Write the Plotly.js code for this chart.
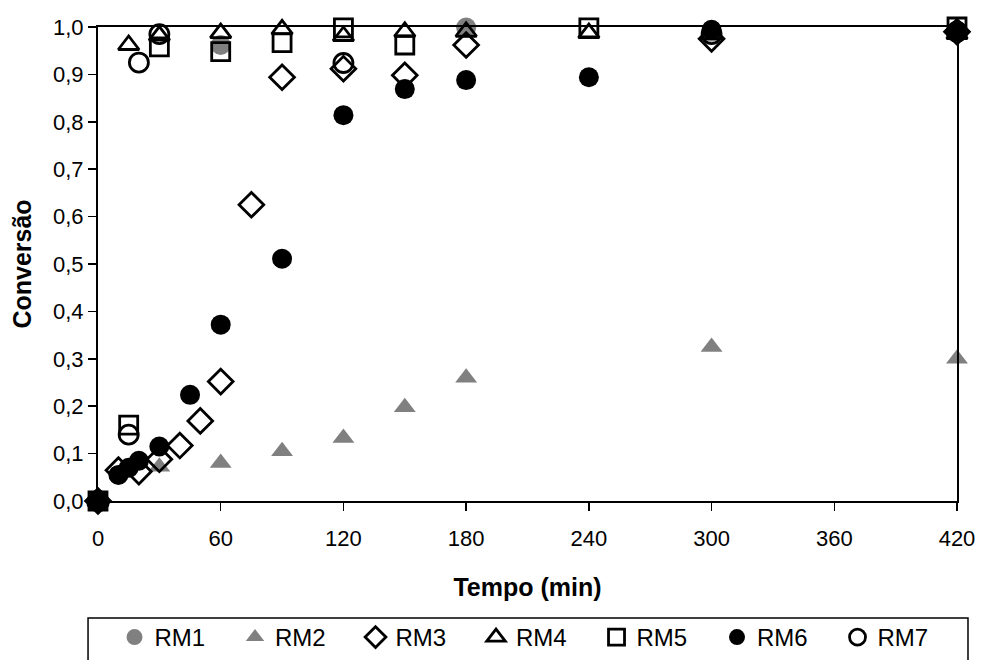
<!DOCTYPE html>
<html>
<head>
<meta charset="utf-8">
<script src="https://cdn.plot.ly/plotly-3.0.1.min.js"></script>
<style>html,body{margin:0;padding:0;background:#fff;}#chart{width:982px;height:660px;}</style>
</head>
<body>
<div id="chart"></div>
<script>
// Data (time in min, conversion fraction)
const seriesNames = ["RM1", "RM2", "RM3", "RM4", "RM5", "RM6", "RM7"];

const rm1Time = [0, 60, 180, 300, 420];
const rm1Conv = [0, 0.962, 0.999, 0.99, 0.99];

const rm2Time = [0, 30, 60, 90, 120, 150, 180, 300, 420];
const rm2Conv = [0, 0.072, 0.08, 0.105, 0.133, 0.198, 0.26, 0.325, 0.30];

const rm3Time = [0, 10, 20, 30, 40, 50, 60, 75, 90, 120, 150, 180, 300, 420];
const rm3Conv = [0, 0.065, 0.062, 0.088, 0.117, 0.169, 0.252, 0.625, 0.894, 0.912, 0.898, 0.962, 0.975, 0.99];

const rm4Time = [0, 15, 30, 60, 90, 120, 150, 180, 240, 300, 420];
const rm4Conv = [0, 0.962, 0.982, 0.987, 0.995, 0.981, 0.99, 0.99, 0.987, 0.985, 0.985];

const rm5Time = [0, 15, 30, 60, 90, 120, 150, 240, 420];
const rm5Conv = [0, 0.16, 0.958, 0.948, 0.967, 0.998, 0.962, 0.998, 1.0];

const rm6Time = [0, 10, 15, 20, 30, 45, 60, 90, 120, 150, 180, 240, 300, 420];
const rm6Conv = [0, 0.055, 0.07, 0.085, 0.115, 0.224, 0.372, 0.511, 0.814, 0.869, 0.888, 0.894, 0.994, 0.99];

const rm7Time = [0, 15, 20, 30, 120, 300, 420];
const rm7Conv = [0, 0.14, 0.925, 0.985, 0.924, 0.985, 0.99];

const xTicks = [0, 60, 120, 180, 240, 300, 360, 420];
const yTicks = [0, 0.1, 0.2, 0.3, 0.4, 0.5, 0.6, 0.7, 0.8, 0.9, 1.0];

const FONT = "Liberation Sans, Arial, sans-serif";
const GRAY = "#808080";

function tr(name, x, y, symbol, size, color, lineColor, lineW) {
  return {
    type: "scatter", mode: "markers", name: name, x: x, y: y,
    cliponaxis: false,
    marker: { symbol: symbol, size: size, color: color,
              line: { color: lineColor, width: lineW } }
  };
}

const data = [
  tr(seriesNames[0], rm1Time, rm1Conv, "circle", 20, GRAY, GRAY, 0),
  tr(seriesNames[1], rm2Time, rm2Conv, "triangle-up", 19, GRAY, GRAY, 0),
  tr(seriesNames[2], rm3Time, rm3Conv, "diamond-open", 19, "black", "black", 2.8),
  tr(seriesNames[3], rm4Time, rm4Conv, "triangle-up-open", 18, "black", "black", 2.8),
  tr(seriesNames[4], rm5Time, rm5Conv, "square-open", 18, "black", "black", 2.8),
  tr(seriesNames[5], rm6Time, rm6Conv, "circle", 20, "black", "black", 0),
  tr(seriesNames[6], rm7Time, rm7Conv, "circle-open", 19, "black", "black", 2.8)
];

const layout = {
  width: 982, height: 660,
  margin: { l: 98, r: 25, t: 27, b: 159, pad: 0 },
  paper_bgcolor: "#fff", plot_bgcolor: "#fff",
  separators: ",.",
  font: { family: FONT, size: 22, color: "#000" },
  showlegend: true,
  xaxis: {
    range: [0, 420], tickvals: xTicks, showgrid: false, zeroline: false,
    showline: true, linecolor: "#000", linewidth: 2, mirror: true,
    ticks: "outside", ticklen: 8, tickwidth: 1.5, tickcolor: "#000",
    ticklabelstandoff: 9,
    tickfont: { family: FONT, size: 22, color: "#000" },
    title: { text: "<b>Tempo (min)</b>", font: { family: FONT, size: 25, color: "#000" }, standoff: 28 },
    automargin: false
  },
  yaxis: {
    range: [0, 1], tickvals: yTicks, tickformat: ".1f", showgrid: false, zeroline: false,
    showline: true, linecolor: "#000", linewidth: 2, mirror: true,
    ticks: "outside", ticklen: 8, tickwidth: 1.5, tickcolor: "#000",
    tickfont: { family: FONT, size: 22, color: "#000" },
    title: { text: "<b>Conversão</b>", font: { family: FONT, size: 25, color: "#000" }, standoff: 14 },
    automargin: false
  },
  legend: {
    orientation: "h", x: 0.5105, xanchor: "center", xref: "paper",
    y: -0.006, yanchor: "bottom", yref: "container",
    borderwidth: 0, bgcolor: "rgba(0,0,0,0)",
    font: { family: FONT, size: 24, color: "#000" },
    itemwidth: 30, entrywidth: 75.5, traceorder: "normal"
  },
  shapes: [{
    type: "rect", xref: "paper", yref: "paper",
    x0: -0.0116, x1: 1.0128, y0: -0.2468, y1: -0.40,
    line: { color: "#000", width: 1.5 }, fillcolor: "rgba(0,0,0,0)", layer: "below"
  }]
};

Plotly.newPlot("chart", data, layout, { displayModeBar: false, staticPlot: true });
</script>
</body>
</html>
